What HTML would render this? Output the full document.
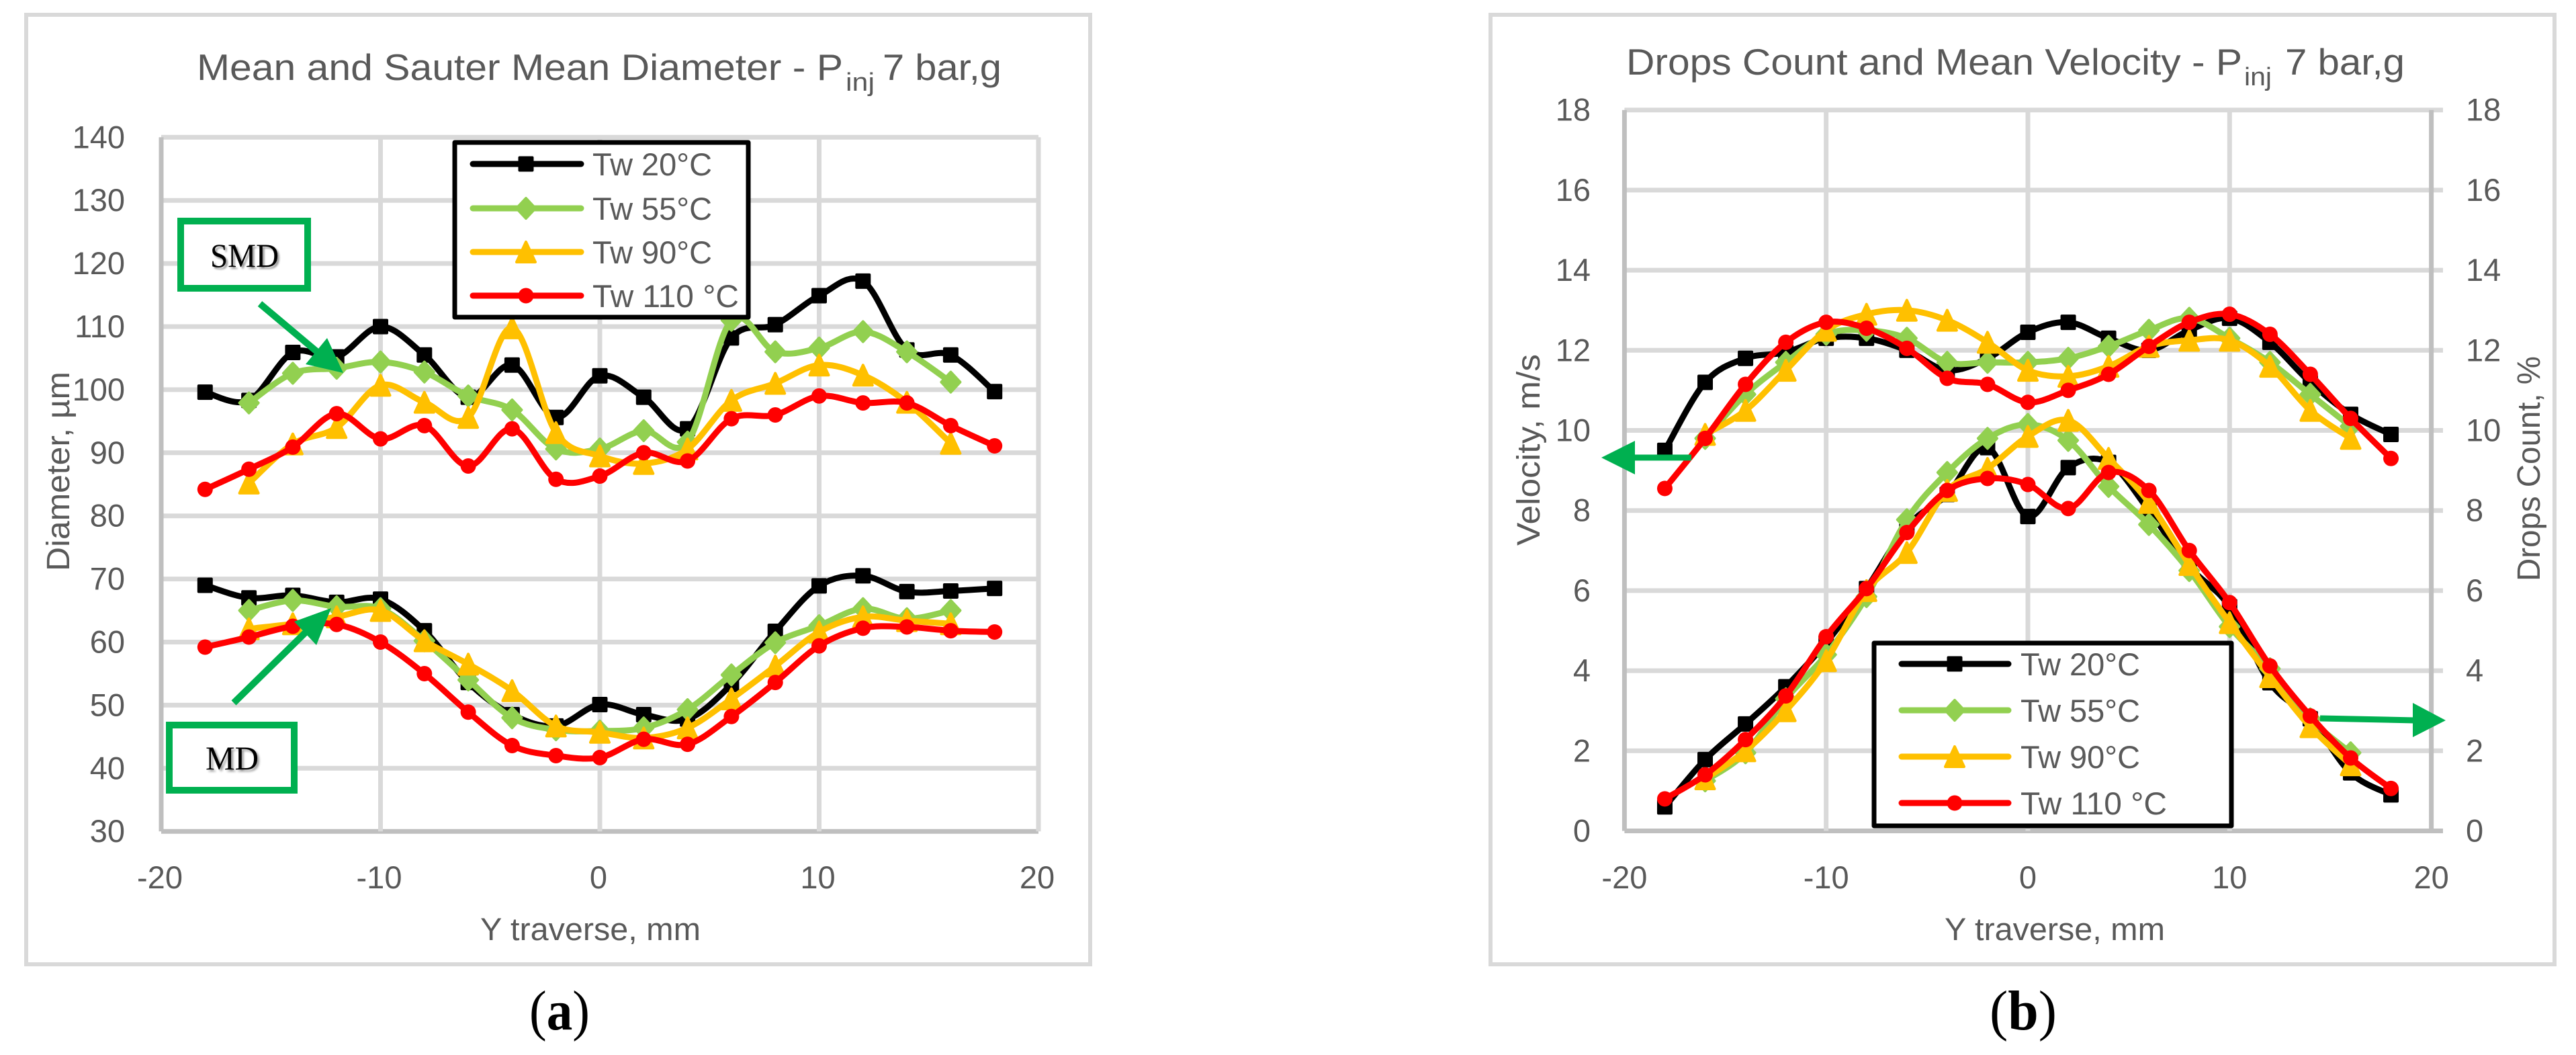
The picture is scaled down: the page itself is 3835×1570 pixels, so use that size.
<!DOCTYPE html>
<html>
<head>
<meta charset="utf-8">
<title>Mean diameter and drops count charts</title>
<style>
html,body{margin:0;padding:0;background:#fff;}
svg{display:block;}
text{font-family:"Liberation Sans",sans-serif;fill:#595959;}
.serif{font-family:"Liberation Serif",serif;fill:#000;}
</style>
</head>
<body>
<svg id="fig" xmlns="http://www.w3.org/2000/svg" width="3835" height="1570" viewBox="0 0 3835 1570">
  <rect x="0" y="0" width="3835" height="1570" fill="#fff"/>
  <rect x="39" y="22" width="1584" height="1413" fill="#fff" stroke="#d9d9d9" stroke-width="6"/>
  <rect x="2219" y="22" width="1584" height="1413" fill="#fff" stroke="#d9d9d9" stroke-width="6"/>

  <g>
    <text x="293" y="119" font-size="55" textLength="962" lengthAdjust="spacingAndGlyphs">Mean and Sauter Mean Diameter - P</text>
    <text x="1259" y="135" font-size="38" textLength="43" lengthAdjust="spacingAndGlyphs">inj</text>
    <text x="1314" y="119" font-size="55" textLength="177" lengthAdjust="spacingAndGlyphs">7 bar,g</text>
  </g>
  <g>
    <text x="2421" y="111" font-size="55" textLength="917" lengthAdjust="spacingAndGlyphs">Drops Count and Mean Velocity - P</text>
    <text x="3341" y="127" font-size="38" textLength="41" lengthAdjust="spacingAndGlyphs">inj</text>
    <text x="3402" y="111" font-size="55" textLength="178" lengthAdjust="spacingAndGlyphs">7 bar,g</text>
  </g>

  <g id="a-grid"></g>
  <g id="b-grid"></g>
  <g id="a-ticks"></g>
  <g id="b-ticks"></g>

  <text x="715" y="1399" font-size="47" textLength="328" lengthAdjust="spacingAndGlyphs">Y traverse, mm</text>
  <text x="2895" y="1399" font-size="47" textLength="328" lengthAdjust="spacingAndGlyphs">Y traverse, mm</text>
  <text transform="translate(103 850) rotate(-90)" font-size="48" textLength="297" lengthAdjust="spacingAndGlyphs">Diameter, µm</text>
  <text transform="translate(2292 812) rotate(-90)" font-size="48" textLength="285" lengthAdjust="spacingAndGlyphs">Velocity, m/s</text>
  <text transform="translate(3781 865) rotate(-90)" font-size="48" textLength="335" lengthAdjust="spacingAndGlyphs">Drops Count, %</text>

  <g id="a-series"></g>
  <g id="b-series"></g>

  <g>
    <rect x="677" y="212" width="437" height="260" fill="#fff" stroke="#000" stroke-width="7" stroke-linejoin="round"/>
    <g id="a-legend"></g>
  </g>
  <g>
    <rect x="2790" y="957" width="532" height="272" fill="#fff" stroke="#000" stroke-width="7" stroke-linejoin="round"/>
    <g id="b-legend"></g>
  </g>

  <g>
    <rect x="269" y="329" width="189" height="100" fill="#fff" stroke="#00b050" stroke-width="10"/>
    <text class="serif" x="313" y="397" font-size="50" textLength="102" lengthAdjust="spacingAndGlyphs" style="text-shadow:3px 3px 3px #9a9a9a">SMD</text>
    <line x1="387" y1="452" x2="475" y2="526" stroke="#00b050" stroke-width="10"/>
    <polygon points="487,503 455,542 511,555" fill="#00b050"/>
  </g>
  <g>
    <rect x="252" y="1079" width="186" height="97" fill="#fff" stroke="#00b050" stroke-width="10"/>
    <text class="serif" x="306" y="1145" font-size="50" textLength="79" lengthAdjust="spacingAndGlyphs" style="text-shadow:3px 3px 3px #9a9a9a">MD</text>
    <line x1="348" y1="1046" x2="458" y2="938" stroke="#00b050" stroke-width="10"/>
    <polygon points="493,905 438,925 471,960" fill="#00b050"/>
  </g>
  <g>
    <line x1="2518" y1="681" x2="2430" y2="681" stroke="#00b050" stroke-width="9"/>
    <polygon points="2384,681 2434,656 2434,706" fill="#00b050"/>
  </g>
  <g>
    <line x1="3454" y1="1069" x2="3596" y2="1072" stroke="#00b050" stroke-width="9"/>
    <polygon points="3641,1072 3592,1046 3592,1097" fill="#00b050"/>
  </g>

  <text class="serif" x="788" y="1532" font-size="84" textLength="90" lengthAdjust="spacingAndGlyphs">(<tspan font-weight="bold">a</tspan>)</text>
  <text class="serif" x="2962" y="1532" font-size="84" textLength="100" lengthAdjust="spacingAndGlyphs">(<tspan font-weight="bold">b</tspan>)</text>
</svg>

<script>
// ---- shared categories ----
const yFull = [-18,-16,-14,-12,-10,-8,-6,-4,-2,0,2,4,6,8,10,12,14,16,18];
const yShort = [-16,-14,-12,-10,-8,-6,-4,-2,0,2,4,6,8,10,12,14,16];
const xTicks = [-20,-10,0,10,20];
const aYTicks = [30,40,50,60,70,80,90,100,110,120,130,140];
const bYTicks = [0,2,4,6,8,10,12,14,16,18];
const legendLabels = ["Tw 20°C","Tw 55°C","Tw 90°C","Tw 110 °C"];

// ---- chart (a): Sauter mean diameter, µm ----
const smd20 = [99.6,98.3,105.9,105.2,110,105.5,98.8,103.9,95.6,102.2,98.8,93.8,108.2,110.3,114.9,117.2,106.3,105.5,99.7];
const smd55 = [97.9,102.6,103.4,104.4,102.8,99,96.8,90.6,90.6,93.5,91.7,111,106,106.6,109.2,106,101.2];
const smd90 = [85.2,91.4,94,100.7,98,95.6,109.8,93.2,89.5,88.3,90.6,98.3,101,103.9,102.3,98,91.5];
const smd110 = [84.2,87.4,90.9,96.2,92.2,94.3,87.9,93.8,85.8,86.3,90,88.7,95.4,96,99,97.9,97.9,94.3,91.1];

// ---- chart (a): mean diameter, µm ----
const md20 = [69,67,67.4,66.3,66.8,61.8,53.6,48.5,46.7,50.1,48.5,47.8,53.3,61.7,68.9,70.5,68,68.1,68.5];
const md55 = [65,66.6,65.6,65.3,60.2,54,48,46.1,45.9,46.4,49.3,54.8,59.9,62.6,65.3,63.7,65];
const md90 = [62.1,62.9,64,65,60.2,56.5,52.3,46.7,45.7,44.8,46.4,51,56.2,61.6,64,63.4,62.9];
const md110 = [59.2,60.8,62.5,62.8,60,55,48.9,43.6,42,41.7,44.6,43.8,48.2,53.6,59.4,62.2,62.4,61.8,61.6];

// ---- chart (b): mean velocity, m/s ----
const vel20 = [9.5,11.2,11.8,11.95,12.3,12.3,12,11.5,11.8,12.45,12.7,12.3,12,12.5,12.8,12.2,11.2,10.4,9.9];
const vel55 = [9.8,10.9,11.7,12.4,12.5,12.3,11.7,11.7,11.7,11.8,12.1,12.5,12.8,12.3,11.7,10.9,10.1];
const vel90 = [9.9,10.5,11.5,12.5,12.9,13,12.75,12.2,11.5,11.35,11.6,12.1,12.25,12.25,11.6,10.5,9.8];
const vel110 = [8.55,9.8,11.15,12.2,12.7,12.55,12.05,11.3,11.15,10.7,11,11.4,12.1,12.7,12.9,12.4,11.4,10.3,9.3];

// ---- chart (b): drops count, % ----
const drops20 = [0.6,1.78,2.67,3.6,4.7,6.05,7.6,8.4,9.57,7.85,9.07,9.2,8,6.6,5.6,3.7,2.8,1.45,0.9];
const drops55 = [1.25,1.95,3.3,4.4,5.85,7.77,8.95,9.8,10.15,9.75,8.6,7.65,6.5,5.1,4.05,2.8,1.95];
const drops90 = [1.3,2,3,4.25,6,6.95,8.5,9.05,9.85,10.25,9.3,8.2,6.65,5.2,3.85,2.6,1.65];
const drops110 = [0.8,1.4,2.28,3.37,4.85,6.05,7.45,8.5,8.8,8.65,8.05,8.95,8.5,7,5.7,4.12,2.87,1.82,1.06];

const NS = "http://www.w3.org/2000/svg";
const BLACK = "#000000", GREEN = "#92d050", YELLOW = "#ffc000", RED = "#ff0000";
const GRID = "#d9d9d9", AXIS = "#bfbfbf";

function aX(v){ return 893 + v * 32.65; }
function aY(v){ return 486 + (110 - v) * 9.39; }
function bX(v){ return 3019 + v * 30.03; }
function bY(v){ return 1236.5 - v * 59.6; }

function make(tag, parent, attrs, name){
  const el = document.createElementNS(NS, tag);
  for (const k in attrs) el.setAttribute(k, attrs[k]);
  
  
  parent.appendChild(el);
  return el;
}

function smoothPath(pts){
  let d = "M" + pts[0][0].toFixed(1) + " " + pts[0][1].toFixed(1);
  for (let i = 0; i < pts.length - 1; i++){
    const p0 = pts[Math.max(i - 1, 0)], p1 = pts[i], p2 = pts[i + 1], p3 = pts[Math.min(i + 2, pts.length - 1)];
    const c1x = p1[0] + (p2[0] - p0[0]) / 6, c1y = p1[1] + (p2[1] - p0[1]) / 6;
    const c2x = p2[0] - (p3[0] - p1[0]) / 6, c2y = p2[1] - (p3[1] - p1[1]) / 6;
    d += "C" + c1x.toFixed(1) + " " + c1y.toFixed(1) + " " + c2x.toFixed(1) + " " + c2y.toFixed(1) + " " + p2[0].toFixed(1) + " " + p2[1].toFixed(1);
  }
  return d;
}

function marker(parent, kind, x, y, color, name){
  const common = {fill: color, stroke: color, "stroke-width": 4, "stroke-linejoin": "round"};
  let attrs;
  if (kind === "square"){
    attrs = Object.assign({d: "M" + (x-9.5) + " " + (y-9.5) + "h19v19h-19z"}, common);
  } else if (kind === "diamond"){
    attrs = Object.assign({d: "M" + x + " " + (y-15) + "L" + (x+14) + " " + y + "L" + x + " " + (y+15) + "L" + (x-14) + " " + y + "Z"}, common);
  } else if (kind === "triangle"){
    attrs = Object.assign({d: "M" + x + " " + (y-15) + "L" + (x+14) + " " + (y+15) + "L" + (x-14) + " " + (y+15) + "Z"}, common);
  } else {
    make("circle", parent, {cx: x, cy: y, r: 11.5, fill: color}, name);
    return;
  }
  make("path", parent, attrs, name);
}

function drawSeries(parent, xs, values, xScale, yScale, color, kind, width, name){
  const g = make("g", parent, {}, name);
  const pts = values.map(function(v, i){ return [xScale(xs[i]), yScale(v)]; });
  make("path", g, {d: smoothPath(pts), fill: "none", stroke: color, "stroke-width": width, "stroke-linecap": "round", "stroke-linejoin": "round"}, name + "-line");
  pts.forEach(function(p){ marker(g, kind, p[0], p[1], color, name + "-point"); });
}

function legend(parent, lineX1, lineX2, markerX, textX, rows){
  const styles = [[BLACK,"square"],[GREEN,"diamond"],[YELLOW,"triangle"],[RED,"circle"]];
  const widths = [178,178,178,218];
  legendLabels.forEach(function(label, i){
    const y = rows[i];
    const g = make("g", parent, {}, "legend-entry");
    make("line", g, {x1: lineX1, x2: lineX2, y1: y, y2: y, stroke: styles[i][0], "stroke-width": 9, "stroke-linecap": "round"}, "legend-line");
    marker(g, styles[i][1], markerX, y, styles[i][0], "legend-marker");
    const t = make("text", g, {x: textX, y: y + 17, "font-size": 47, textLength: widths[i], lengthAdjust: "spacingAndGlyphs"}, "legend-label");
    t.textContent = label;
  });
}

// ---- chart (a) axes ----
const aGrid = document.getElementById("a-grid");
const aTicksG = document.getElementById("a-ticks");
aYTicks.forEach(function(v){
  make("line", aGrid, {x1: aX(-20), x2: aX(20), y1: aY(v), y2: aY(v), stroke: v === aYTicks[0] ? AXIS : GRID, "stroke-width": 7}, "h-gridline");
  const t = make("text", aTicksG, {x: 186, y: aY(v) + 16, "font-size": 47, "text-anchor": "end"}, "y-tick-label");
  t.textContent = v;
});
xTicks.forEach(function(v){
  make("line", aGrid, {x1: aX(v), x2: aX(v), y1: aY(aYTicks[aYTicks.length-1]), y2: aY(aYTicks[0]), stroke: v === xTicks[0] ? AXIS : GRID, "stroke-width": 7}, "v-gridline");
  const t = make("text", aTicksG, {x: aX(v) - 2, y: 1322, "font-size": 47, "text-anchor": "middle"}, "x-tick-label");
  t.textContent = v;
});

// ---- chart (b) axes ----
const bGrid = document.getElementById("b-grid");
const bTicksG = document.getElementById("b-ticks");
bYTicks.forEach(function(v){
  make("line", bGrid, {x1: bX(-20), x2: 3637, y1: bY(v), y2: bY(v), stroke: v === bYTicks[0] ? AXIS : GRID, "stroke-width": 7}, "h-gridline");
  const t1 = make("text", bTicksG, {x: 2368, y: bY(v) + 16, "font-size": 47, "text-anchor": "end"}, "y-tick-label-left");
  t1.textContent = v;
  const t2 = make("text", bTicksG, {x: 3671, y: bY(v) + 16, "font-size": 47}, "y-tick-label-right");
  t2.textContent = v;
});
xTicks.forEach(function(v){
  const edge = v === xTicks[0] || v === xTicks[xTicks.length-1];
  make("line", bGrid, {x1: bX(v), x2: bX(v), y1: bY(bYTicks[bYTicks.length-1]), y2: bY(bYTicks[0]), stroke: edge ? AXIS : GRID, "stroke-width": 7}, "v-gridline");
  const t = make("text", bTicksG, {x: bX(v), y: 1322, "font-size": 47, "text-anchor": "middle"}, "x-tick-label");
  t.textContent = v;
});

// ---- chart (a) series ----
const aS = document.getElementById("a-series");
drawSeries(aS, yFull, smd20, aX, aY, BLACK, "square", 9, "smd-tw20");
drawSeries(aS, yShort, smd55, aX, aY, GREEN, "diamond", 9, "smd-tw55");
drawSeries(aS, yShort, smd90, aX, aY, YELLOW, "triangle", 9, "smd-tw90");
drawSeries(aS, yFull, smd110, aX, aY, RED, "circle", 9, "smd-tw110");
drawSeries(aS, yFull, md20, aX, aY, BLACK, "square", 9, "md-tw20");
drawSeries(aS, yShort, md55, aX, aY, GREEN, "diamond", 9, "md-tw55");
drawSeries(aS, yShort, md90, aX, aY, YELLOW, "triangle", 9, "md-tw90");
drawSeries(aS, yFull, md110, aX, aY, RED, "circle", 9, "md-tw110");

// ---- chart (b) series ----
const bS = document.getElementById("b-series");
drawSeries(bS, yFull, vel20, bX, bY, BLACK, "square", 9, "velocity-tw20");
drawSeries(bS, yShort, vel55, bX, bY, GREEN, "diamond", 9, "velocity-tw55");
drawSeries(bS, yShort, vel90, bX, bY, YELLOW, "triangle", 9, "velocity-tw90");
drawSeries(bS, yFull, vel110, bX, bY, RED, "circle", 9, "velocity-tw110");
drawSeries(bS, yFull, drops20, bX, bY, BLACK, "square", 9, "drops-tw20");
drawSeries(bS, yShort, drops55, bX, bY, GREEN, "diamond", 9, "drops-tw55");
drawSeries(bS, yShort, drops90, bX, bY, YELLOW, "triangle", 9, "drops-tw90");
drawSeries(bS, yFull, drops110, bX, bY, RED, "circle", 9, "drops-tw110");

// ---- legends ----
legend(document.getElementById("a-legend"), 704, 865, 783, 882, [244,310,375,440]);
legend(document.getElementById("b-legend"), 2831, 2990, 2910, 3008, [988,1057,1126,1195]);
</script>
</body>
</html>
